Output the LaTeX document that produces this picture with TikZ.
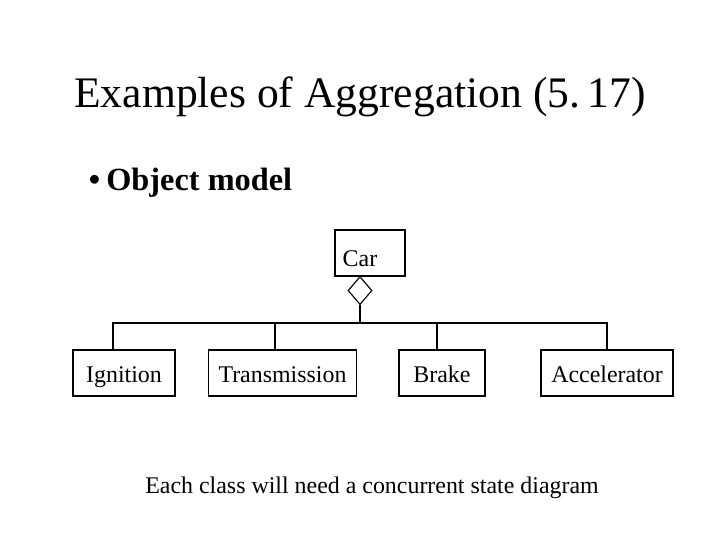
\documentclass[tikz,border=0pt]{standalone}
\usepackage{fontspec}
\setmainfont{Liberation Serif}
\usetikzlibrary{shapes.geometric}
\tikzset{
  cls/.style={draw,thick,minimum height=1.15cm,inner sep=0pt,text height=1.2ex+0.3cm,text depth=0.25ex,font=\fontsize{17}{19}\selectfont},
  agg/.style={draw,thick,diamond,fill=white,minimum width=0.6cm,minimum height=0.7cm,inner sep=0pt,aspect=0.85}
}
\begin{document}
\begin{tikzpicture}[x=0.025cm,y=-0.025cm]
\useasboundingbox (0,0) rectangle (720,540);
%\draw[step=20,gray,very thin] (0,0) grid (720,540); %background grid
\node (title) at (360,97) {\fontsize{31}{36}\selectfont Examples of Aggregation (5.\,17)};
\node[anchor=west] (bullet) at (84,183) {\fontsize{23}{27}\selectfont\bfseries •\hspace{0.15cm}Object model};
\node[cls,minimum width=1.75cm,text height=1.2ex+0.5cm] (car) at (370,253) {Car\hspace*{0.5cm}};
\node[agg,anchor=north] (dia) at (360,276) {};
\node[cls,minimum width=2.55cm] (ign) at (124,373) {Ignition};
\node[cls,minimum width=3.72cm] (trans) at (282.5,373) {Transmission};
\node[cls,minimum width=2.15cm] (brake) at (442,373) {Brake};
\node[cls,minimum width=3.3cm] (acc) at (607,373) {Accelerator};
\coordinate (bus) at (360,323);
\draw[thick] (dia.south) -- (bus);
\draw[thick] (ign.north -| 113,0) |- (bus) -| (acc.north);
\draw[thick] (trans.north -| 275,0) -- (275,323);
\draw[thick] (brake.north -| 437,0) -- (437,323);
\node (note) at (372,488) {\fontsize{17}{20}\selectfont Each class will need a concurrent state diagram};
\end{tikzpicture}
\end{document}
